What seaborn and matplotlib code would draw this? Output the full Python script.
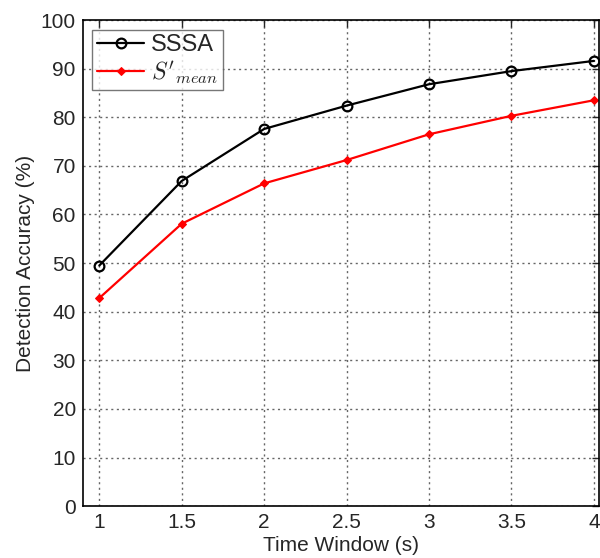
import numpy as np
import pandas as pd

import matplotlib
matplotlib.use("Agg")
import matplotlib.pyplot as plt
import seaborn as sns

time_window = [1, 1.5, 2, 2.5, 3, 3.5, 4]
sssa_acc = [49.5, 66.9, 77.6, 82.4, 86.8, 89.5, 91.6]
smean_acc = [42.8, 58.1, 66.4, 71.2, 76.5, 80.3, 83.5]
x_ticks = [1, 1.5, 2, 2.5, 3, 3.5, 4]
y_ticks = list(range(0, 101, 10))

sns.set_style("white")
plt.rcParams["font.family"] = ["Liberation Sans", "DejaVu Sans"]
plt.rcParams["mathtext.fontset"] = "cm"


def main():
    df = pd.DataFrame(
        {
            "Time Window (s)": time_window * 2,
            "acc": sssa_acc + smean_acc,
            "method": ["SSSA"] * len(sssa_acc) + [r"$S'_{mean}$"] * len(smean_acc),
        }
    )

    fig = plt.figure(figsize=(6, 5.58), dpi=100)
    ax = fig.add_axes([0.138, 0.093, 0.86, 0.871])

    sns.lineplot(
        data=df[df["method"] == "SSSA"],
        x="Time Window (s)",
        y="acc",
        color="black",
        linewidth=1.6,
        marker="o",
        markersize=7,
        markerfacecolor="none",
        markeredgecolor="black",
        markeredgewidth=1.6,
        label="SSSA",
        ax=ax,
    )
    sns.lineplot(
        data=df[df["method"] != "SSSA"],
        x="Time Window (s)",
        y="acc",
        color="red",
        linewidth=1.6,
        marker="D",
        markersize=4,
        markeredgecolor="red",
        label=r"$S'_{mean}$",
        ax=ax,
    )

    ax.set_xlim(0.9, 4.03)
    ax.set_ylim(0, 100)
    ax.set_xticks(x_ticks)
    ax.set_xticklabels([f"{t:g}" for t in x_ticks])
    ax.set_yticks(y_ticks)
    ax.grid(True, linestyle=(0, (1.5, 2.5)), color="#666666", linewidth=1.0)
    ax.tick_params(
        direction="in", length=5, width=1, labelsize=15,
        top=True, right=True, pad=5,
    )
    for sp in ax.spines.values():
        sp.set_color("black")
        sp.set_linewidth(1.2)
    ax.set_xlabel("Time Window (s)", fontsize=15, labelpad=3)
    ax.set_ylabel("Detection Accuracy (%)", fontsize=15, labelpad=4)

    leg = ax.legend(
        loc="upper left",
        fontsize=17,
        frameon=True,
        fancybox=False,
        edgecolor="#555555",
        borderaxespad=0.4,
        handlelength=2.0,
        handletextpad=0.3,
        borderpad=0.2,
        labelspacing=0.1,
    )
    leg.get_frame().set_linewidth(1.0)

    fig.savefig("out.png", dpi=100)
    plt.close(fig)


if __name__ == "__main__":
    main()
